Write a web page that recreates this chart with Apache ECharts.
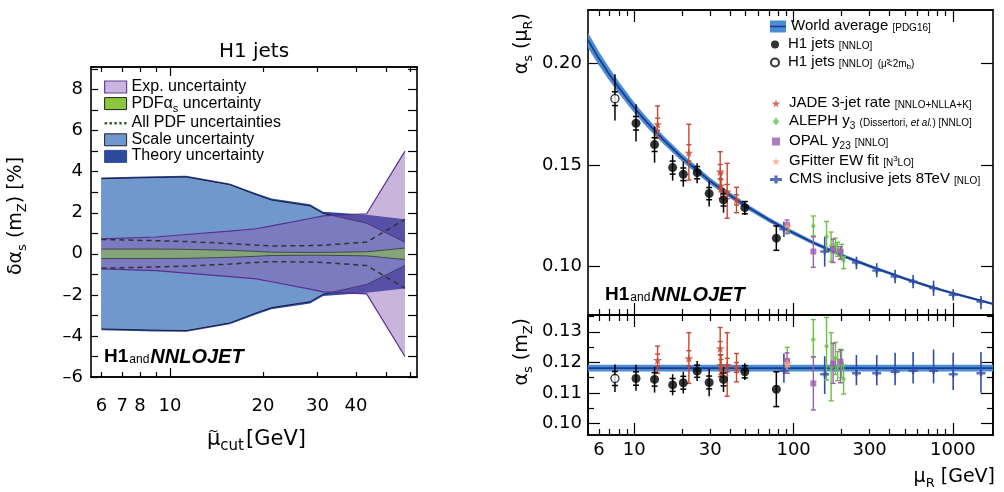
<!DOCTYPE html>
<html>
<head>
<meta charset="utf-8">
<script src="https://cdn.jsdelivr.net/npm/echarts@6/dist/echarts.min.js"></script>
<style>
html,body{margin:0;padding:0;background:#fff;}
#chart{width:1004px;height:492px;}
</style>
</head>
<body>
<div id="chart"></div>
<script>
var FONT = '"Liberation Sans", Arial, Helvetica, sans-serif';
var WFONT = '"DejaVu Sans", Verdana, sans-serif';

// ---- left panel: delta alpha_s(mZ) [%] vs mu_cut ----
var muCut     = [6, 9, 11.3, 15.6, 19, 21.3, 28.4, 31.3, 43.3, 57.6];
var expUnc    = [0.73, 0.82, 0.94, 1.11, 1.22, 1.36, 1.72, 1.85, 1.95, 5.0];
var pdfAsUnc  = [0.23, 0.23, 0.22, 0.17, 0.12, 0.08, 0.07, 0.07, 0.10, 0.28];
var allPdfUnc = [0.70, 0.64, 0.60, 0.50, 0.42, 0.38, 0.40, 0.42, 0.57, 1.68];
var scaleUnc  = [3.66, 3.72, 3.74, 3.37, 2.88, 2.62, 2.33, 1.97, 1.49, 0.57];
var theoryUnc = [3.72, 3.78, 3.80, 3.43, 2.95, 2.70, 2.42, 2.05, 1.90, 1.69];
var cutMinorTicks = [6, 7, 8, 9, 20, 30, 40, 50, 60];
var cutMajorTicks = [10];
var cutLabels = [6, 7, 8, 10, 20, 30, 40];
var dTicks = [-6, -5, -4, -3, -2, -1, 0, 1, 2, 3, 4, 5, 6, 7, 8, 9];
var dLabels = [-6, -4, -2, 0, 2, 4, 6, 8];

// ---- right panel: running alpha_s ----
var waMu    = [5, 6, 7, 8, 10, 12, 15, 20, 30, 40, 50, 70, 91.19, 130, 200, 300, 500, 700, 1000, 1800];
var waAlpha = [0.2127, 0.2023, 0.1944, 0.1880, 0.1781, 0.1709, 0.1629, 0.1535, 0.1420, 0.1350, 0.1299, 0.1230, 0.1181, 0.1121, 0.1056, 0.1002, 0.0941, 0.0904, 0.0869, 0.0816];
var waErr   = [0.0037, 0.0034, 0.0031, 0.0029, 0.0026, 0.0024, 0.0021, 0.0019, 0.0016, 0.0014, 0.0013, 0.0012, 0.0011, 0.0010, 0.0009, 0.0008, 0.0007, 0.0007, 0.0006, 0.0005];
var waMzMu  = [5, 1800];
var waMz    = [0.1181, 0.1181];
var waMzErr = [0.0011, 0.0011];

var h1Mu     = [10.25, 13.4, 17.4, 20.3, 24.8, 29.5, 36.3, 49.4, 77.9];
var h1Alpha  = [0.1705, 0.1600, 0.1487, 0.1454, 0.1462, 0.1359, 0.1328, 0.1290, 0.1140];
var h1Lo     = [0.1615, 0.1511, 0.1423, 0.1393, 0.1410, 0.1295, 0.1265, 0.1254, 0.1079];
var h1Hi     = [0.1798, 0.1688, 0.1549, 0.1516, 0.1508, 0.1418, 0.1386, 0.1320, 0.1200];
var h1Inner  = [0.0033, 0.0034, 0.0032, 0.0031, 0.0030, 0.0030, 0.0030, 0.0030, 0.0060];
var h1Mz     = [0.1147, 0.1144, 0.1126, 0.1133, 0.1171, 0.1134, 0.1144, 0.1169, 0.1112];
var h1MzLo   = [0.1107, 0.1101, 0.1092, 0.1098, 0.1139, 0.1089, 0.1103, 0.1142, 0.1054];
var h1MzHi   = [0.1192, 0.1185, 0.1161, 0.1169, 0.1204, 0.1178, 0.1185, 0.1197, 0.1169];
var h1MzInner = [0.0022, 0.0022, 0.0021, 0.0021, 0.0020, 0.0021, 0.0021, 0.0020, 0.0057];

var h1LowMu = [7.56];
var h1LowAlpha = [0.1826], h1LowLo = [0.1718], h1LowHi = [0.1946], h1LowInner = [0.0034];
var h1LowMz = [0.1147], h1LowMzLo = [0.1103], h1LowMzHi = [0.1193], h1LowMzInner = [0.0023];

var jadeMu    = [14, 22, 34.6, 35, 38.3, 43.8];
var jadeAlpha = [0.1700, 0.1560, 0.1467, 0.1398, 0.1369, 0.1328];
var jadeLo    = [0.1631, 0.1426, 0.1380, 0.1335, 0.1238, 0.1265];
var jadeHi    = [0.1790, 0.1700, 0.1565, 0.1460, 0.1508, 0.1390];
var jadeInner = [0.0030, 0.0040, 0.0035, 0.0030, 0.0035, 0.0025];
var jadeMz    = [0.1207, 0.1213, 0.1246, 0.1191, 0.1191, 0.1183];
var jadeMzLo  = [0.1164, 0.1131, 0.1153, 0.1160, 0.1089, 0.1136];
var jadeMzHi  = [0.1253, 0.1297, 0.1314, 0.1225, 0.1297, 0.1229];
var jadeMzInner = [0.0020, 0.0025, 0.0022, 0.0018, 0.0022, 0.0016];

var alephMu    = [91.2, 133, 161, 172, 183, 189, 200, 206];
var alephAlpha = [0.1180, 0.1200, 0.1147, 0.1100, 0.1105, 0.1085, 0.1075, 0.1030];
var alephLo    = [0.1162, 0.1151, 0.1074, 0.1025, 0.1065, 0.1050, 0.1040, 0.0990];
var alephHi    = [0.1205, 0.1249, 0.1222, 0.1170, 0.1140, 0.1120, 0.1110, 0.1050];
var alephMz    = [0.1207, 0.1275, 0.1253, 0.1185, 0.1213, 0.1185, 0.1195, 0.1145];
var alephMzLo  = [0.1164, 0.1218, 0.1142, 0.1074, 0.1160, 0.1140, 0.1150, 0.1096];
var alephMzHi  = [0.1249, 0.1340, 0.1347, 0.1297, 0.1265, 0.1235, 0.1240, 0.1191];

var opalMu    = [91, 133, 177, 197];
var opalAlpha = [0.1205, 0.1074, 0.1086, 0.1074];
var opalLo    = [0.1164, 0.0997, 0.1020, 0.1036];
var opalHi    = [0.1229, 0.1147, 0.1135, 0.1098];
var opalMz    = [0.1205, 0.1131, 0.1196, 0.1202];
var opalMzLo  = [0.1164, 0.1044, 0.1131, 0.1133];
var opalMzHi  = [0.1231, 0.1218, 0.1262, 0.1242];

var gfMu = [91.19];
var gfAlpha = [0.1196], gfLo = [0.1166], gfHi = [0.1226];

var cmsMu    = [86.9, 156.7, 247.9, 332.6, 433.6, 562.6, 756, 1004, 1500];
var cmsAlpha = [0.1184, 0.1074, 0.1020, 0.0980, 0.0951, 0.0926, 0.0894, 0.0861, 0.0828];
var cmsLo    = [0.1145, 0.1000, 0.0987, 0.0948, 0.0918, 0.0894, 0.0856, 0.0833, 0.0790];
var cmsHi    = [0.1221, 0.1147, 0.1049, 0.1017, 0.0984, 0.0959, 0.0931, 0.0889, 0.0856];
var cmsMz    = [0.1172, 0.1161, 0.1164, 0.1164, 0.1169, 0.1172, 0.1172, 0.1161, 0.1164];
var cmsMzLo  = [0.1133, 0.1096, 0.1125, 0.1125, 0.1125, 0.1131, 0.1131, 0.1109, 0.1100];
var cmsMzHi  = [0.1229, 0.1220, 0.1224, 0.1224, 0.1231, 0.1234, 0.1242, 0.1231, 0.1234];

var muMajorTicks = [10, 100, 1000];
var muMinorTicks = [6, 7, 8, 9, 20, 30, 40, 50, 60, 70, 80, 90, 200, 300, 400, 500, 600, 700, 800, 900];
var muLabels = [6, 10, 30, 100, 300, 1000];
var aTicks = [0.10, 0.15, 0.20];
var mzMajorTicks = [0.10, 0.11, 0.12, 0.13];
var mzMinorTicks = [0.105, 0.115, 0.125, 0.135];

var STAR = 'path://M50,0L61.2,34.5H97.6L68.2,55.9L79.4,90.5L50,69.1L20.6,90.5L31.8,55.9L2.4,34.5H38.8Z';
var CROSS = 'path://M0,3.3H9V5.7H0Z M3.3,1.5H5.7V7.5H3.3Z';
var SQUARE = 'path://M0,0H10V10H0Z';
var DIAMOND = 'path://M5,0L10,6L5,12L0,6Z';
var DOTS = 'path://M0,0H2.5V2.5H0Z M5,0H7.5V2.5H5Z M10,0H12.5V2.5H10Z M15,0H17.5V2.5H15Z M20,0H22.5V2.5H20Z';

function lg(v) { return Math.log10(v); }
function toLog(a) { return a.map(lg); }
function neg(a) { return a.map(function (v) { return -v; }); }
function minus(a, b) { return a.map(function (v, i) { return v - b[i]; }); }
function plus(a, b) { return a.map(function (v, i) { return v + b[i]; }); }

// axes
function axisX(grid, pos, range, ticks, len, labels, labelMargin) {
  var a = {
    type: 'value', gridIndex: grid, position: pos, min: lg(range[0]), max: lg(range[1]),
    axisLine: {show: true, onZero: false, lineStyle: {color: '#000', width: 1.6}},
    axisTick: {show: true, inside: true, length: len, customValues: toLog(ticks), lineStyle: {color: '#000', width: 1.2}},
    axisLabel: {show: false}, splitLine: {show: false}
  };
  if (labels) {
    a.axisLabel = {
      show: true, customValues: toLog(labels), color: '#000', fontSize: 18, fontFamily: WFONT, margin: labelMargin,
      formatter: function (v) { return String(Math.round(Math.pow(10, v))); }
    };
  }
  return a;
}
function axisY(grid, pos, range, ticks, len, labels, fmt, labelMargin) {
  var a = {
    type: 'value', gridIndex: grid, position: pos, min: range[0], max: range[1],
    axisLine: {show: true, onZero: false, lineStyle: {color: '#000', width: 1.6}},
    axisTick: {show: true, inside: true, length: len, customValues: ticks, lineStyle: {color: '#000', width: 1.2}},
    axisLabel: {show: false}, splitLine: {show: false}
  };
  if (labels) {
    a.axisLabel = {show: true, customValues: labels, color: '#000', fontSize: 18, fontFamily: WFONT, margin: labelMargin, formatter: fmt};
  }
  return a;
}

var LX = [5.55, 63], LY = [-6, 9.1];
var RX = [5.12, 1785], RTY = [0.0762, 0.2262], RBY = [0.0962, 0.1355];

var xAxes = [
  axisX(0, 'bottom', LX, cutMajorTicks, 9, cutLabels, 20),
  axisX(0, 'bottom', LX, cutMinorTicks, 5),
  axisX(0, 'top', LX, cutMajorTicks, 9),
  axisX(0, 'top', LX, cutMinorTicks, 5),
  axisX(1, 'bottom', RX, muMajorTicks, 12),
  axisX(1, 'bottom', RX, muMinorTicks, 6),
  axisX(1, 'top', RX, muMajorTicks, 12),
  axisX(1, 'top', RX, muMinorTicks, 6),
  axisX(2, 'bottom', RX, muMajorTicks, 12, muLabels, 6),
  axisX(2, 'bottom', RX, muMinorTicks, 6),
  axisX(2, 'top', RX, muMajorTicks, 12),
  axisX(2, 'top', RX, muMinorTicks, 6)
];
function fmtPct(v) { v = Math.round(v); return v < 0 ? '\u2013' + (-v) : String(v); }
function fmt2(v) { return v.toFixed(2); }
var yAxes = [
  axisY(0, 'left', LY, dTicks, 7, dLabels, fmtPct, 8),
  axisY(0, 'right', LY, dTicks, 9),
  axisY(1, 'left', RTY, aTicks, 12, aTicks, fmt2, 6),
  axisY(1, 'right', RTY, aTicks, 12),
  axisY(2, 'left', RBY, mzMajorTicks, 12, mzMajorTicks, fmt2, 6),
  axisY(2, 'left', RBY, mzMinorTicks, 6),
  axisY(2, 'right', RBY, mzMajorTicks, 12),
  axisY(2, 'right', RBY, mzMinorTicks, 6)
];

// series builders
function bandSeries(name, xs, lo, hi, fill, stroke, lw, xi, yi, z) {
  var lx = toLog(xs);
  return {
    name: name, type: 'custom', xAxisIndex: xi, yAxisIndex: yi, z: z, clip: true, silent: true,
    data: lx.map(function (x, i) { return [x, lo[i], hi[i]]; }),
    encode: {x: 0, y: [1, 2]},
    renderItem: function (params, api) {
      if (params.dataIndex !== 0) return null;
      var up = [], dn = [];
      for (var i = 0; i < params.dataInsideLength; i++) {
        up.push(api.coord([api.value(0, i), api.value(2, i)]));
        dn.push(api.coord([api.value(0, i), api.value(1, i)]));
      }
      var ch = [{type: 'polygon', shape: {points: up.concat(dn.slice().reverse())}, style: {fill: fill}}];
      if (stroke) {
        ch.push({type: 'polyline', shape: {points: up}, style: {fill: 'none', stroke: stroke, lineWidth: lw}});
        ch.push({type: 'polyline', shape: {points: dn}, style: {fill: 'none', stroke: stroke, lineWidth: lw}});
      }
      return {type: 'group', children: ch};
    }
  };
}
function lineSeries(name, xs, ys, color, width, type, xi, yi, z) {
  var lx = toLog(xs);
  return {
    name: name, type: 'line', xAxisIndex: xi, yAxisIndex: yi, z: z, symbol: 'none', silent: true, clip: true,
    lineStyle: {color: color, width: width, type: type},
    itemStyle: {color: color},
    data: lx.map(function (x, i) { return [x, ys[i]]; })
  };
}
function errSeries(name, xs, ys, lo, hi, inner, color, cap, tick, lw, xi, yi, z) {
  var lx = toLog(xs);
  return {
    name: name, type: 'custom', xAxisIndex: xi, yAxisIndex: yi, z: z, clip: true, silent: true,
    data: lx.map(function (x, i) { return [x, ys[i], lo[i], hi[i], inner ? inner[i] : 0]; }),
    encode: {x: 0, y: [1, 2, 3]},
    renderItem: function (params, api) {
      var x = api.value(0), y = api.value(1);
      var t = api.coord([x, api.value(3)]), b = api.coord([x, api.value(2)]);
      var st = {stroke: color, lineWidth: lw};
      var ch = [{type: 'line', shape: {x1: t[0], y1: t[1], x2: b[0], y2: b[1]}, style: st}];
      if (cap) {
        ch.push({type: 'line', shape: {x1: t[0] - cap, y1: t[1], x2: t[0] + cap, y2: t[1]}, style: st});
        ch.push({type: 'line', shape: {x1: b[0] - cap, y1: b[1], x2: b[0] + cap, y2: b[1]}, style: st});
      }
      var e = api.value(4);
      if (tick && e > 0) {
        var p = api.coord([x, y + e]), q = api.coord([x, y - e]);
        ch.push({type: 'line', shape: {x1: p[0] - tick, y1: p[1], x2: p[0] + tick, y2: p[1]}, style: st});
        ch.push({type: 'line', shape: {x1: q[0] - tick, y1: q[1], x2: q[0] + tick, y2: q[1]}, style: st});
      }
      return {type: 'group', children: ch};
    }
  };
}
function markSeries(name, xs, ys, symbol, size, style, xi, yi, z) {
  var lx = toLog(xs);
  return {
    name: name, type: 'scatter', xAxisIndex: xi, yAxisIndex: yi, z: z, silent: true, clip: true,
    symbol: symbol, symbolSize: size, itemStyle: style,
    data: lx.map(function (x, i) { return [x, ys[i]]; })
  };
}

var C_JADE = '#c8472e', C_ALEPH = '#6cc04a', C_OPAL = '#9a5db0', C_GF = '#f4a27a', C_CMS = '#2f4da6';
var C_WA = '#4a8cd6', C_WAL = '#1d3a8c';

var series = [
  // left panel
  bandSeries('Theory uncertainty', muCut, neg(theoryUnc), theoryUnc, '#2e4a9e', null, 0, 0, 0, 1),
  bandSeries('Scale uncertainty', muCut, neg(scaleUnc), scaleUnc, '#7198cd', '#1a1a40', 1, 0, 0, 2),
  bandSeries('Exp. uncertainty', muCut, neg(expUnc), expUnc, 'rgba(135,91,178,0.45)', '#5a2d91', 1.2, 0, 0, 3),
  bandSeries('PDFas uncertainty', muCut, neg(pdfAsUnc), pdfAsUnc, 'rgba(141,198,63,0.55)', '#333', 0.8, 0, 0, 4),
  lineSeries('All PDF uncertainties', muCut, allPdfUnc, '#333', 1.5, [5, 4], 0, 0, 5),
  lineSeries('All PDF uncertainties', muCut, neg(allPdfUnc), '#333', 1.5, [5, 4], 0, 0, 5),

  // right top panel
  bandSeries('wa band', waMu, minus(waAlpha, waErr), plus(waAlpha, waErr), C_WA, null, 0, 4, 2, 1),
  lineSeries('World average', waMu, waAlpha, C_WAL, 1.8, 'solid', 4, 2, 2),
  errSeries('cms err', cmsMu, cmsAlpha, cmsLo, cmsHi, null, C_CMS, 0, 0, 1.6, 4, 2, 3),
  errSeries('aleph err', alephMu, alephAlpha, alephLo, alephHi, null, C_ALEPH, 2.5, 0, 1.4, 4, 2, 3),
  errSeries('opal err', opalMu, opalAlpha, opalLo, opalHi, null, C_OPAL, 2.5, 0, 1.4, 4, 2, 3),
  errSeries('gf err', gfMu, gfAlpha, gfLo, gfHi, null, C_GF, 0, 0, 1.4, 4, 2, 3),
  errSeries('jade err', jadeMu, jadeAlpha, jadeLo, jadeHi, jadeInner, C_JADE, 2.5, 2.5, 1.4, 4, 2, 3),
  errSeries('h1 err', h1Mu, h1Alpha, h1Lo, h1Hi, h1Inner, '#000', 0, 3, 1.5, 4, 2, 3),
  errSeries('h1 low err', h1LowMu, h1LowAlpha, h1LowLo, h1LowHi, h1LowInner, '#000', 0, 3, 1.5, 4, 2, 3),
  markSeries('H1 jets', h1Mu, h1Alpha, 'circle', 9, {color: '#000'}, 4, 2, 5),
  markSeries('H1 jets low', h1LowMu, h1LowAlpha, 'circle', 8, {color: '#fff', borderColor: '#000', borderWidth: 1.3}, 4, 2, 5),
  markSeries('JADE', jadeMu, jadeAlpha, STAR, 9, {color: C_JADE}, 4, 2, 5),
  markSeries('ALEPH', alephMu, alephAlpha, DIAMOND, [5, 6], {color: C_ALEPH}, 4, 2, 5),
  markSeries('OPAL', opalMu, opalAlpha, SQUARE, 6, {color: C_OPAL}, 4, 2, 5),
  markSeries('GFitter', gfMu, gfAlpha, STAR, 10, {color: C_GF}, 4, 2, 5),
  markSeries('CMS', cmsMu, cmsAlpha, CROSS, [9, 6], {color: C_CMS}, 4, 2, 5),

  // right bottom panel
  bandSeries('wa mz band', waMzMu, minus(waMz, waMzErr), plus(waMz, waMzErr), C_WA, null, 0, 8, 4, 1),
  lineSeries('wa mz line', waMzMu, waMz, C_WAL, 1.8, 'solid', 8, 4, 2),
  errSeries('cms mz err', cmsMu, cmsMz, cmsMzLo, cmsMzHi, null, C_CMS, 0, 0, 1.6, 8, 4, 3),
  errSeries('aleph mz err', alephMu, alephMz, alephMzLo, alephMzHi, null, C_ALEPH, 2.5, 0, 1.4, 8, 4, 3),
  errSeries('opal mz err', opalMu, opalMz, opalMzLo, opalMzHi, null, C_OPAL, 2.5, 0, 1.4, 8, 4, 3),
  errSeries('gf mz err', gfMu, gfAlpha, gfLo, gfHi, null, C_GF, 0, 0, 1.4, 8, 4, 3),
  errSeries('jade mz err', jadeMu, jadeMz, jadeMzLo, jadeMzHi, jadeMzInner, C_JADE, 2.5, 2.5, 1.4, 8, 4, 3),
  errSeries('h1 mz err', h1Mu, h1Mz, h1MzLo, h1MzHi, h1MzInner, '#000', 0, 3, 1.5, 8, 4, 3),
  errSeries('h1 low mz err', h1LowMu, h1LowMz, h1LowMzLo, h1LowMzHi, h1LowMzInner, '#000', 0, 3, 1.5, 8, 4, 3),
  markSeries('H1 jets mz', h1Mu, h1Mz, 'circle', 9, {color: '#000'}, 8, 4, 5),
  markSeries('H1 jets low mz', h1LowMu, h1LowMz, 'circle', 8, {color: '#fff', borderColor: '#000', borderWidth: 1.3}, 8, 4, 5),
  markSeries('JADE mz', jadeMu, jadeMz, STAR, 9, {color: C_JADE}, 8, 4, 5),
  markSeries('ALEPH mz', alephMu, alephMz, DIAMOND, [5, 6], {color: C_ALEPH}, 8, 4, 5),
  markSeries('OPAL mz', opalMu, opalMz, SQUARE, 6, {color: C_OPAL}, 8, 4, 5),
  markSeries('GFitter mz', gfMu, gfAlpha, STAR, 10, {color: C_GF}, 8, 4, 5),
  markSeries('CMS mz', cmsMu, cmsMz, CROSS, [9, 6], {color: C_CMS}, 8, 4, 5)
];

// legend text
var rLabels = {
  'World average': '{m|World average} {s|[PDG16]}',
  'H1 jets': '{m|H1 jets} {s|[NNLO]}',
  'H1 jets low': '{m|H1 jets} {s|[NNLO]  (\u03bc\u0303<2m}{ss|b}{s|)}',
  'JADE': '{m|JADE 3-jet rate} {s|[NNLO+NLLA+K]}',
  'ALEPH': '{m|ALEPH y}{sub|3} {s|(Dissertori, }{si|et al.}{s|) [NNLO]}',
  'OPAL': '{m|OPAL y}{sub|23} {s|[NNLO]}',
  'GFitter': '{m|GFitter EW fit} {s|[N}{sup|3}{s|LO]}',
  'CMS': '{m|CMS inclusive jets 8TeV} {s|[NLO]}'
};
var rRich = {
  m: {fontSize: 15, fontFamily: FONT, color: '#000', lineHeight: 17, verticalAlign: 'top'},
  s: {fontSize: 10, fontFamily: FONT, color: '#000', lineHeight: 10, padding: [5, 0, 0, 0], verticalAlign: 'top'},
  si: {fontSize: 10, fontFamily: FONT, fontStyle: 'italic', color: '#000', lineHeight: 10, padding: [5, 0, 0, 0], verticalAlign: 'top'},
  ss: {fontSize: 8, fontFamily: FONT, color: '#000', lineHeight: 8, padding: [9, 0, 0, 0], verticalAlign: 'top'},
  sub: {fontSize: 10, fontFamily: FONT, color: '#000', lineHeight: 10, padding: [8, 0, 0, 0], verticalAlign: 'top'},
  sup: {fontSize: 8, fontFamily: FONT, color: '#000', lineHeight: 8, padding: [2, 0, 0, 0], verticalAlign: 'top'}
};
var lLabels = {
  'Exp. uncertainty': '{m|Exp. uncertainty}',
  'PDFas uncertainty': '{m|PDF\u03b1}{sub|s}{m| uncertainty}',
  'All PDF uncertainties': '{m|All PDF uncertainties}',
  'Scale uncertainty': '{m|Scale uncertainty}',
  'Theory uncertainty': '{m|Theory uncertainty}'
};
var lRich = {
  m: {fontSize: 16, fontFamily: FONT, color: '#000', lineHeight: 17, verticalAlign: 'top'},
  sub: {fontSize: 11, fontFamily: FONT, color: '#000', lineHeight: 9, padding: [8, 0, 0, 0], verticalAlign: 'top'}
};
function legendBase(left, top, w, h, labels, rich) {
  return {
    left: left, top: top, orient: 'vertical', padding: 0, itemGap: 2, itemWidth: w, itemHeight: h,
    selectedMode: false, symbolKeepAspect: true,
    textStyle: {fontFamily: FONT, fontSize: 15, color: '#000', rich: rich},
    formatter: function (n) { return labels[n] || n; }
  };
}
var legL = legendBase(104, 78.5, 22, 12, lLabels, lRich);
legL.itemGap = 0.6;
legL.data = [
  {name: 'Exp. uncertainty', icon: 'rect', itemStyle: {color: '#c9b6dc', borderColor: '#6a3d9a', borderWidth: 1.2}},
  {name: 'PDFas uncertainty', icon: 'rect', itemStyle: {color: '#8dc63f', borderColor: '#222', borderWidth: 1}},
  {name: 'All PDF uncertainties', icon: DOTS, itemStyle: {color: '#2e5e2e', borderWidth: 0}},
  {name: 'Scale uncertainty', icon: 'rect', itemStyle: {color: '#7198cd', borderColor: '#222', borderWidth: 1}},
  {name: 'Theory uncertainty', icon: 'rect', itemStyle: {color: '#2e4a9e', borderColor: '#2e4a9e', borderWidth: 1}}
];
var legR1 = legendBase(770, 18, 16, 12, rLabels, rRich);
legR1.data = [{name: 'World average', icon: 'rect', itemStyle: {color: C_WA}}];
var legR2 = legendBase(770, 36, 16, 8, rLabels, rRich);
legR2.data = ['H1 jets', 'H1 jets low'];
var legR3 = legendBase(770, 95, 16, 8, rLabels, rRich);
legR3.data = ['JADE', 'ALEPH', 'OPAL', 'GFitter', 'CMS'];

var axRich = {
  m: {fontSize: 19, fontFamily: WFONT, lineHeight: 20, verticalAlign: 'top'},
  b: {fontSize: 13, fontFamily: WFONT, lineHeight: 13, padding: [9, 0, 0, 0], verticalAlign: 'top'}
};
var cutRich = {
  m: {fontSize: 21, fontFamily: WFONT, lineHeight: 22, verticalAlign: 'top'},
  b: {fontSize: 15, fontFamily: WFONT, lineHeight: 15, padding: [10, 2, 0, 0], verticalAlign: 'top'}
};
var tagRich = {
  h: {fontSize: 19, fontFamily: FONT, fontWeight: 'bold', lineHeight: 20, verticalAlign: 'top'},
  a: {fontSize: 12, fontFamily: FONT, lineHeight: 12, padding: [7, 1, 0, 1], verticalAlign: 'top'},
  n: {fontSize: 20, fontFamily: FONT, fontWeight: 'bold', fontStyle: 'italic', lineHeight: 20, verticalAlign: 'top'}
};
function txt(x, y, text, rich, align, vAlign, rot, size, family) {
  return {
    type: 'text', x: x, y: y, rotation: rot || 0, silent: true, z: 100,
    style: {text: text, rich: rich, fill: '#000', fontFamily: family || WFONT, fontSize: size || 19, align: align, verticalAlign: vAlign}
  };
}

var option = {
  animation: false,
  backgroundColor: '#fff',
  textStyle: {fontFamily: FONT},
  grid: [
    {left: 91, top: 67, width: 326, height: 310},
    {left: 588, top: 10, width: 405, height: 305},
    {left: 588, top: 315, width: 405, height: 120}
  ],
  xAxis: xAxes,
  yAxis: yAxes,
  legend: [legL, legR1, legR2, legR3],
  graphic: [
    txt(254, 52, 'H1 jets', null, 'center', 'middle', 0, 20),
    txt(17, 216, '{m|\u03b4\u03b1}{b|s}{m| (m}{b|Z}{m|) [%]}', axRich, 'center', 'middle', Math.PI / 2),
    txt(207, 440, '{m|\u03bc}{b|cut}{m|[GeV]}', cutRich, 'left', 'middle'),
    txt(213.5, 432, '~', null, 'center', 'middle', 0, 13),
    txt(104, 347, '{h|H1}{a|and}{n|NNLOJET}', tagRich, 'left', 'top'),
    txt(605, 285, '{h|H1}{a|and}{n|NNLOJET}', tagRich, 'left', 'top'),
    txt(523, 13, '{m|\u03b1}{b|s}{m| (\u03bc}{b|R}{m|)}', axRich, 'right', 'middle', Math.PI / 2),
    txt(523, 318, '{m|\u03b1}{b|s}{m| (m}{b|Z}{m|)}', axRich, 'right', 'middle', Math.PI / 2),
    txt(995, 478, '{m|\u03bc}{b|R}{m| [GeV]}', axRich, 'right', 'middle'),
    {type: 'line', silent: true, z: 100, shape: {x1: 770, y1: 26.5, x2: 786, y2: 26.5}, style: {stroke: C_WAL, lineWidth: 1.5}}
  ],
  series: series
};

var chart = echarts.init(document.getElementById('chart'));
chart.setOption(option);
</script>
</body>
</html>
